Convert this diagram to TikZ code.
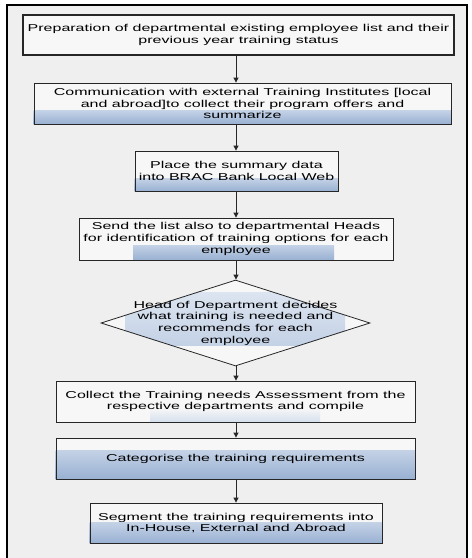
\documentclass[tikz,border=0pt]{standalone}
\usepackage{fontspec}
\setmainfont{Liberation Sans}[FakeStretch=1.6]
\usetikzlibrary{shapes.geometric,arrows.meta}
\definecolor{bg}{HTML}{EFEFEF}
\definecolor{boxtop}{HTML}{F7F7F7}
\definecolor{bandtop}{HTML}{C4D2E6}
\definecolor{bandbot}{HTML}{98B0D2}
\pgfdeclarelayer{background}
\pgfsetlayers{background,main}
\begin{document}
\begin{tikzpicture}[x=1pt,y=-1pt,
  txt/.style={font=\fontsize{10}{11.7}\selectfont, align=center, inner sep=0pt},
  box/.style={txt, draw=black!85, line width=0.8pt, rectangle},
  arr/.style={-{Triangle[length=5pt,width=5pt]}, line width=0.8pt, black!85},
  band/.style={top color=bandtop, bottom color=bandbot}]
\useasboundingbox (0,0) rectangle (472,558);
\coordinate (ax) at (236,0);
\node[box, line width=1.6pt, minimum width=431, minimum height=40] (b1) at (238.5,35)
  {Preparation of departmental existing employee list and their\\previous year training status};
\node[box, minimum width=417, minimum height=41] (b2) at (242.5,103.5)
  {Communication with external Training Institutes [local\\and abroad]to collect their program offers and\\summarize};
\node[box, minimum width=203, minimum height=40] (b3) at (236.5,171)
  {Place the summary data\\into BRAC Bank Local Web};
\node[box, minimum width=314, minimum height=42] (b4) at (236,239)
  {Send the list also to departmental Heads\\for identification of training options for each\\employee};
\node[diamond, draw=black!85, line width=0.8pt, minimum width=269, minimum height=86, inner sep=0pt] (d5) at (235.5,323) {};
\node[txt] (d5t) at (d5.center)
  {Head of Department decides\\what training is needed and\\recommends for each\\employee};
\node[box, minimum width=359, minimum height=41] (b6) at (235.5,401.5)
  {Collect the Training needs Assessment from the\\respective departments and compile};
\node[box, minimum width=359, minimum height=41] (b7) at (235.5,458.5)
  {Categorise the training requirements};
\node[box, minimum width=292, minimum height=40] (b8) at (236,523)
  {Segment the training requirements into\\In-House, External and Abroad};

\draw[arr] (b1.south -| ax) -- (b2.north -| ax);
\draw[arr] (b2.south -| ax) -- (b3.north -| ax);
\draw[arr] (b3.south -| ax) -- (b4.north -| ax);
\draw[arr] (b4.south -| ax) -- (d5.north -| ax);
\draw[arr] (d5.south -| ax) -- (b6.north -| ax);
\draw[arr] (b6.south -| ax) -- (b7.north -| ax);
\draw[arr] (b7.south -| ax) -- (b8.north -| ax);

\begin{pgfonlayer}{background}
  \fill[bg] (7,5) rectangle (467,558);
  \draw[line width=1.5pt, black] (7,560) -- (7,5) -- (467,5) -- (467,560);
  \fill[bg!50!white] (b1.north west) rectangle (b1.south east);
  \foreach \n in {b2,b3,b4,b6,b7,b8} {\fill[boxtop] (\n.north west) rectangle (\n.south east);}
  \fill[boxtop] (d5.north) -- (d5.east) -- (d5.south) -- (d5.west) -- cycle;
  \shade[band] (b2.south west) ++(0,-14) rectangle (b2.south east);
  \shade[band] (b3.south west) ++(0,-13) rectangle (b3.south east);
  \shade[band] (133,245) rectangle (334,260);
  \begin{scope}
    \clip (d5.north) -- (d5.east) -- (d5.south) -- (d5.west) -- cycle;
    \shade[top color=bandtop!60!white, bottom color=bandtop] (125,292) rectangle (345,345);
  \end{scope}
  \shade[top color=boxtop, bottom color=bandtop!70!white] (150,408) rectangle (320,422);
  \shade[band] (b7.south west) ++(0,-29) rectangle (b7.south east);
  \shade[band] (b8.south west) ++(0,-21) rectangle (b8.south east);
\end{pgfonlayer}
\end{tikzpicture}
\end{document}
